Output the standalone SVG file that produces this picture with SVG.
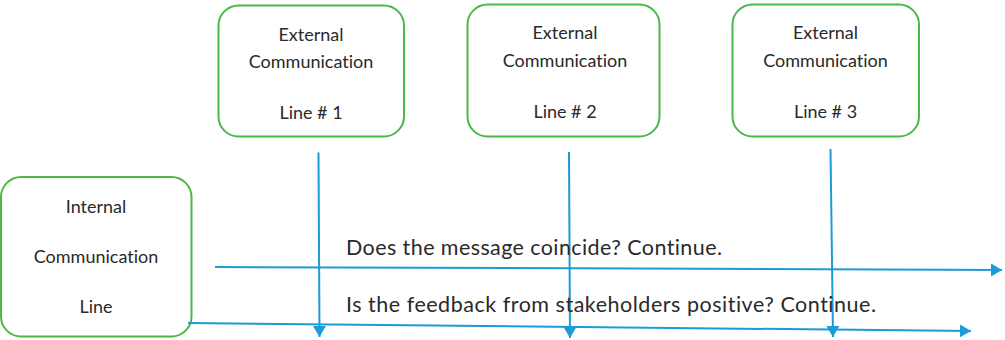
<svg xmlns="http://www.w3.org/2000/svg" width="1005" height="340" viewBox="0 0 1005 340">
  <style>
    text { font-variant-ligatures: none; font-feature-settings: "liga" 0, "clig" 0; }
    .box { fill: #ffffff; stroke: #4cb848; stroke-width: 2; }
    .lbl { font-family: Lato, "Open Sans", "Liberation Sans", sans-serif; font-size: 18px; fill: #2a2a2a; text-anchor: middle; }
    .msg { font-family: Lato, "Open Sans", "Liberation Sans", sans-serif; font-size: 21.5px; fill: #2a2a2a; }
    .con { fill: none; stroke: #1e9bd7; stroke-width: 2; marker-end: url(#arr); }
  </style>
  <defs>
    <marker id="arr" markerUnits="userSpaceOnUse" markerWidth="12" markerHeight="14" refX="11" refY="6.5" orient="auto">
      <path d="M0,0 L11,6.5 L0,13 Z" fill="#1e9bd7"/>
    </marker>
  </defs>
  <rect width="1005" height="340" fill="#ffffff"/>

  <g id="ext1">
    <rect class="box" x="218.5" y="5.5" width="185.5" height="131" rx="20"/>
    <text class="lbl" x="311" y="40.7">External</text>
    <text class="lbl" x="311" y="68.3">Communication</text>
    <text class="lbl" x="311" y="119">Line # 1</text>
  </g>
  <g id="ext2">
    <rect class="box" x="467.5" y="4.5" width="192" height="132" rx="20"/>
    <text class="lbl" x="565" y="39">External</text>
    <text class="lbl" x="565" y="66.7">Communication</text>
    <text class="lbl" x="565" y="118">Line # 2</text>
  </g>
  <g id="ext3">
    <rect class="box" x="732.5" y="4.5" width="186.5" height="132" rx="20"/>
    <text class="lbl" x="825.5" y="39">External</text>
    <text class="lbl" x="825.5" y="66.7">Communication</text>
    <text class="lbl" x="825.5" y="118.3">Line # 3</text>
  </g>
  <g id="internal">
    <rect class="box" x="1" y="177" width="190.5" height="159.5" rx="20"/>
    <text class="lbl" x="96" y="212.7">Internal</text>
    <text class="lbl" x="96" y="263.3">Communication</text>
    <text class="lbl" x="96" y="313.3">Line</text>
  </g>

  <g id="connectors">
    <line class="con" x1="215" y1="267" x2="1002" y2="270"/>
    <line class="con" x1="188" y1="323" x2="971" y2="331"/>
    <line class="con" x1="318.5" y1="152.5" x2="319.5" y2="337"/>
    <line class="con" x1="569" y1="152" x2="570" y2="338"/>
    <line class="con" x1="830.5" y1="149" x2="833" y2="337"/>
  </g>

  <g id="labels">
    <text class="msg" x="346" y="255" textLength="376" lengthAdjust="spacing">Does the message coincide? Continue.</text>
    <text class="msg" x="346" y="312" textLength="530" lengthAdjust="spacing">Is the feedback from stakeholders positive? Continue.</text>
  </g>
</svg>
